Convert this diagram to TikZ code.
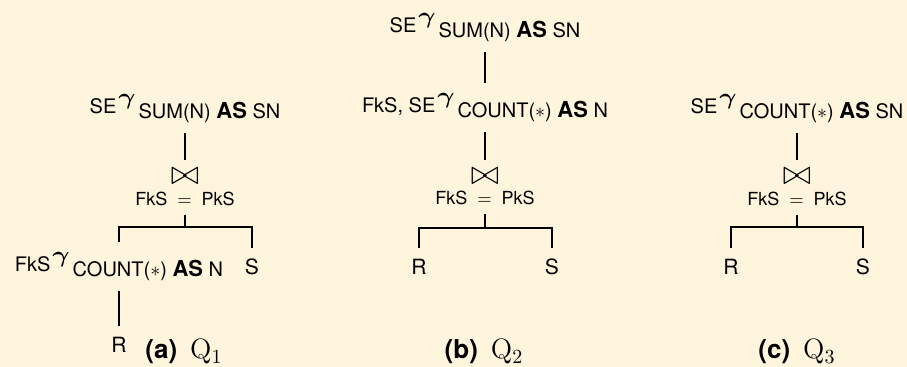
\documentclass[tikz,border=0pt]{standalone}
\usepackage{graphicx}
\usepackage{amsmath}
\usepackage{fontspec}
\setsansfont{TeX Gyre Heros}
\usetikzlibrary{positioning, calc}
\definecolor{paper}{RGB}{254,245,220}
\tikzstyle{agg} = [anchor=base, inner sep=0pt, text height=17.5pt, text depth=7pt, font=\sffamily]
\tikzstyle{leaf} = [anchor=base, inner sep=0pt, text height=13.5pt, text depth=0pt, font=\sffamily\fontsize{10.5}{12}\selectfont]
\tikzstyle{joinop} = [inner sep=0pt, minimum height=16pt, font=\fontsize{17}{19}\selectfont]
\tikzstyle{cond} = [anchor=base, inner sep=0pt, text height=6pt, text depth=4.5pt, font=\sffamily\small]
\tikzstyle{subcap} = [anchor=base, inner sep=0pt, font=\sffamily\fontsize{13}{15}\selectfont]
\tikzstyle{edge} = [draw, line width=0.65pt]
\newcommand{\groupby}[3]{\raisebox{2.5pt}{#1}\hspace{1pt}\raisebox{7pt}{\scalebox{1.1}[0.95]{\large$\boldsymbol{\gamma}$}}\hspace{1.5pt}#2 {\fontsize{11}{13}\selectfont\bfseries AS} #3}
\newcommand{\equi}{FkS\;\;$=$\;\;PkS}

\begin{document}
\begin{tikzpicture}[x=0.5pt, y=-0.5pt]
  \fill[paper] (0,0) rectangle (907,367);
  \useasboundingbox (0,0) rectangle (907,367);
   % Q1
    \node [agg] (topa) at (185,119) {\groupby{SE}{SUM(N)}{SN}};
    \node [joinop] (joina) at (185,176) {$\bowtie$};
    \node [cond] (conda) at (185,206) {\equi};
    \coordinate (forka) at (185,227);
    \node [agg] (cnta) at (119,277) {\groupby{FkS}{COUNT($*$)}{N}};
    \node [leaf] (sa) at (252,275) {S};
    \node [leaf] (ra) at (119,353) {R};
    \node [subcap] (capa) at (184,359) {\textbf{(a)}\enspace{\fontsize{14}{16}\selectfont$\mathrm{Q}_1$}};
   % Q2
    \node [agg] (topb) at (485,38) {\groupby{SE}{SUM(N)}{SN}};
    \node [agg] (cntb) at (485,118) {\groupby{FkS, SE}{COUNT($*$)}{N}};
    \node [joinop] (joinb) at (485,176) {$\bowtie$};
    \node [cond] (condb) at (485,205) {\equi};
    \coordinate (forkb) at (485,228);
    \node [leaf] (rb) at (419,275) {R};
    \node [leaf] (sb) at (552,275) {S};
    \node [subcap] (capb) at (484,359) {\textbf{(b)}\enspace{\fontsize{14}{16}\selectfont$\mathrm{Q}_2$}};
   % Q3
    \node [agg] (topc) at (797,119) {\groupby{SE}{COUNT($*$)}{SN}};
    \node [joinop] (joinc) at (797,176) {$\bowtie$};
    \node [cond] (condc) at (797,206) {\equi};
    \coordinate (forkc) at (797,227);
    \node [leaf] (rc) at (731,275) {R};
    \node [leaf] (sc) at (863,275) {S};
    \node [subcap] (capc) at (797,359) {\textbf{(c)}\enspace{\fontsize{14}{16}\selectfont$\mathrm{Q}_3$}};
   % Draw edges
    \path [edge] (topa) -- (joina);
    \path [edge] (conda) -- (forka);
    \path [edge] (forka) -| (cnta);
    \path [edge] (forka) -| (sa);
    \path [edge] (cnta) -- (ra);
    \path [edge] (topb) -- (cntb);
    \path [edge] (cntb) -- (joinb);
    \path [edge] (condb) -- (forkb);
    \path [edge] (forkb) -| (rb);
    \path [edge] (forkb) -| (sb);
    \path [edge] (topc) -- (joinc);
    \path [edge] (condc) -- (forkc);
    \path [edge] (forkc) -| (rc);
    \path [edge] (forkc) -| (sc);
\end{tikzpicture}
\end{document}
